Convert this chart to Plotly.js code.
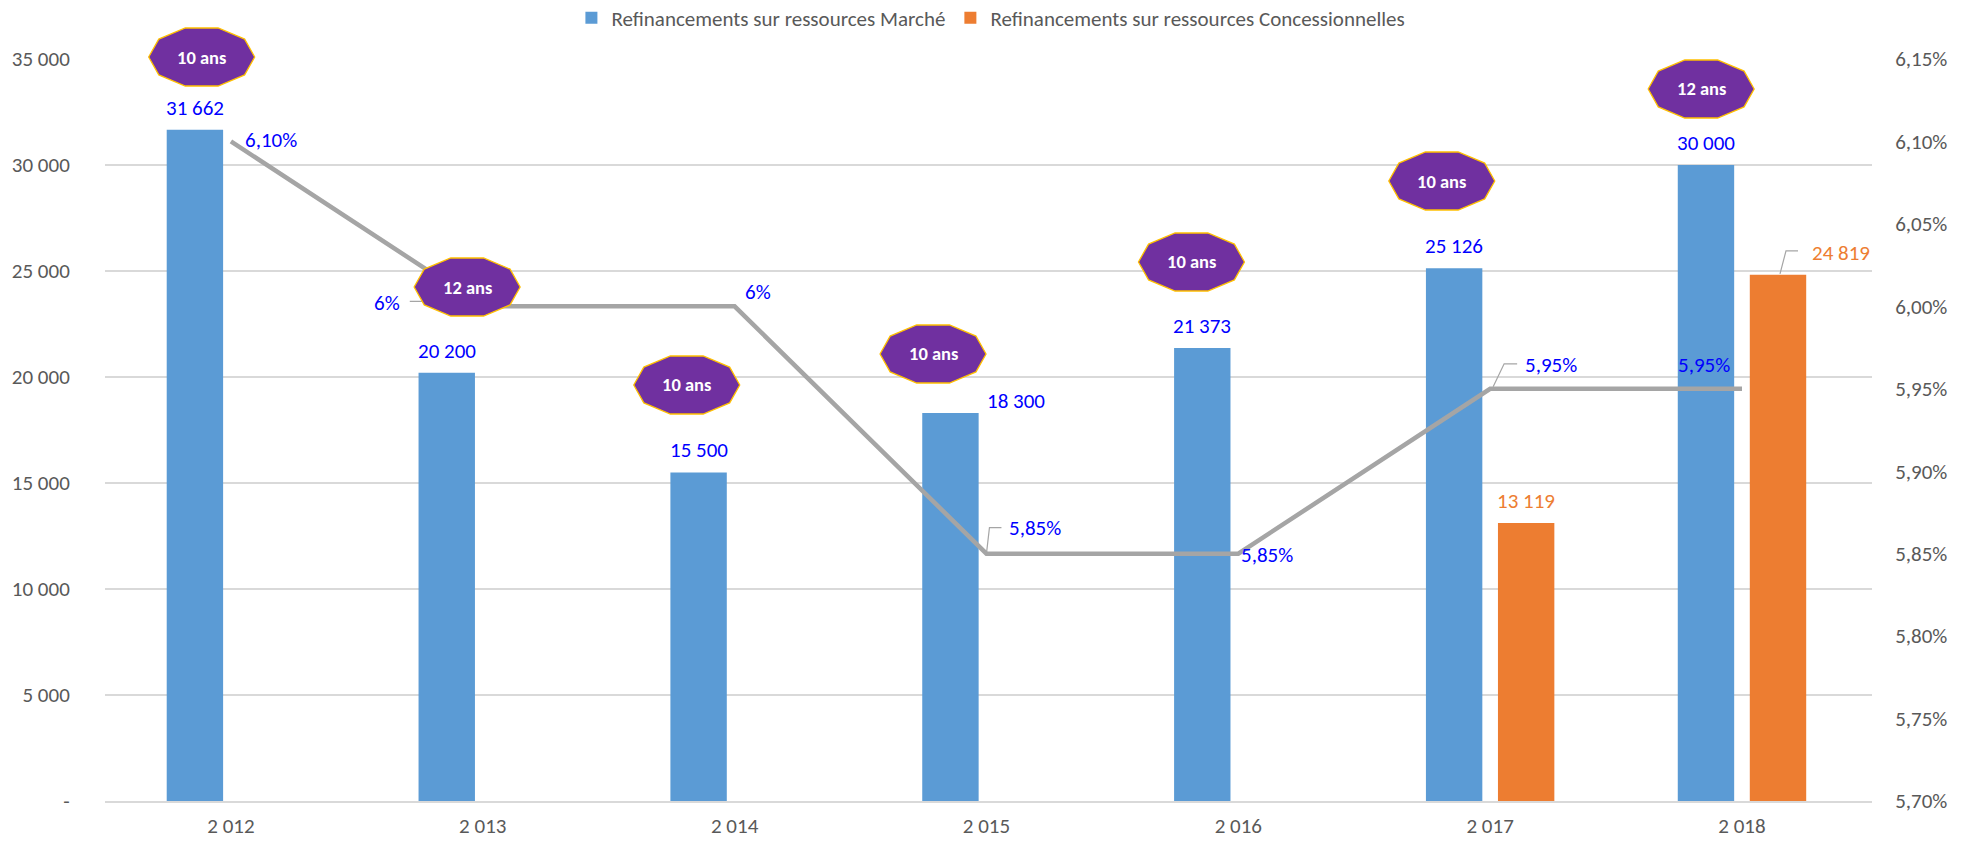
<!DOCTYPE html>
<html>
<head>
<meta charset="utf-8">
<script src="https://cdn.plot.ly/plotly-3.0.1.min.js"></script>
<style>
  html, body { margin: 0; padding: 0; background: #fff; }
  #chart { width: 1970px; height: 842px; }
</style>
</head>
<body>
<div id="chart"></div>
<script>
// --- données ---
const years = ['2 012', '2 013', '2 014', '2 015', '2 016', '2 017', '2 018'];
const marche = [31662, 20200, 15500, 18300, 21373, 25126, 30000];
const concess = [null, null, null, null, null, 13119, 24819];
const taux = [6.10, 6.00, 6.00, 5.85, 5.85, 5.95, 5.95];
const tauxLabels = ['6,10%', '6%', '6%', '5,85%', '5,85%', '5,95%', '5,95%'];
const durees = ['10 ans', '12 ans', '10 ans', '10 ans', '10 ans', '10 ans', '12 ans'];

const leftTicks = [0, 5000, 10000, 15000, 20000, 25000, 30000, 35000];
const leftTickText = ['-', '5 000', '10 000', '15 000', '20 000', '25 000', '30 000', '35 000'];
const rightTicks = [5.70, 5.75, 5.80, 5.85, 5.90, 5.95, 6.00, 6.05, 6.10, 6.15];
const rightTickText = ['5,70%', '5,75%', '5,80%', '5,85%', '5,90%', '5,95%', '6,00%', '6,05%', '6,10%', '6,15%'];

// position des pastilles "durée" (décalage en catégorie, hauteur sur l'axe gauche)
const badgeDx = [-0.116, -0.062, -0.190, -0.212, -0.186, -0.192, -0.162];
const badgeY = [35094, 24245, 19623, 21085, 25425, 29245, 33585];

// placement des étiquettes de taux (ancre, décalages px)
const tauxPos = [
    { xa: 'left', dx: 12, dy: 1 },
    { xa: 'right', dx: -81, dy: 3 },
    { xa: 'left', dx: 8, dy: 14 },
    { xa: 'left', dx: 21, dy: 26 },
    { xa: 'left', dx: 1, dy: -1 },
    { xa: 'left', dx: 33, dy: 24 },
    { xa: 'center', dx: -38, dy: 24 }
];
// lignes de rappel (px, relatif au point)
const tauxLeaders = { 1: 'M-73,5 L-40,5 L0,0', 3: 'M0,0 L3,26 L15,26', 5: 'M3,2 L14,25 L27,25' };

const FONT = "Carlito, 'Liberation Sans Narrow', 'Open Sans', sans-serif";
const BLUE = '#5B9BD5', ORANGE = '#ED7D31', GREY = '#A5A5A5', LBL = '#0000FF';
const BARGAP = 0.428, GROUPGAP = 0.217;
const Y_MAX = 35000;
const slotHalf = (1 - BARGAP) / 4;   // décalage du centre de chaque barre

const traces = [
    { type: 'bar', x: years, y: marche, name: 'Refinancements sur ressources Marché',
      marker: { color: BLUE }, hoverinfo: 'skip' },
    { type: 'bar', x: years, y: concess, name: 'Refinancements sur ressources Concessionnelles',
      marker: { color: ORANGE }, hoverinfo: 'skip' },
    { type: 'scatter', mode: 'lines', x: years, y: taux, yaxis: 'y2', showlegend: false,
      line: { color: GREY, width: 4.5 }, hoverinfo: 'skip' }
];

const annotations = [];
const shapes = [];

function fmt(v) {
    return String(v).replace(/\B(?=(\d{3})+(?!\d))/g, ' ');
}

// étiquettes des barres
marche.forEach((v, i) => {
    const a = { x: i - slotHalf, y: v, xref: 'x', yref: 'y', text: fmt(v), showarrow: false,
        font: { family: FONT, size: 21, color: LBL }, yanchor: 'middle', xanchor: 'center', yshift: 22 };
    if (i === 3) { a.xanchor = 'left'; a.xshift = 35; a.yshift = 12; }
    annotations.push(a);
});
concess.forEach((v, i) => {
    if (v === null) return;
    const a = { x: i + slotHalf, y: v, xref: 'x', yref: 'y', text: fmt(v), showarrow: false,
        font: { family: FONT, size: 21, color: ORANGE }, yanchor: 'middle', xanchor: 'center', yshift: 22 };
    if (i === 6) {
        a.xanchor = 'left'; a.xshift = 32; a.yshift = 22;
        shapes.push({ type: 'path', xref: 'x', yref: 'y', xsizemode: 'pixel', ysizemode: 'pixel',
            xanchor: i + slotHalf, yanchor: v, path: 'M2,1 L8,24 L20,24',
            line: { color: GREY, width: 1.2 } });
    }
    annotations.push(a);
});

// étiquettes du taux
taux.forEach((v, i) => {
    const p = tauxPos[i];
    annotations.push({ x: i, y: v, xref: 'x', yref: 'y2', text: tauxLabels[i], showarrow: false,
        font: { family: FONT, size: 21, color: LBL }, xanchor: p.xa, yanchor: 'middle',
        xshift: p.dx, yshift: p.dy });
    if (tauxLeaders[i]) {
        shapes.push({ type: 'path', xref: 'x', yref: 'y2', xsizemode: 'pixel', ysizemode: 'pixel',
            xanchor: i, yanchor: v, path: tauxLeaders[i], line: { color: GREY, width: 1.2 } });
    }
});

// pastilles décagonales "10 ans / 12 ans"
function decagon(rx, ry) {
    let d = '';
    for (let k = 0; k < 10; k++) {
        const t = k * Math.PI / 5;
        d += (k ? ' L' : 'M') + (rx * Math.cos(t)).toFixed(1) + ',' + (ry * Math.sin(t)).toFixed(1);
    }
    return d + ' Z';
}
const badgePath = decagon(53, 30.5);
durees.forEach((d, i) => {
    // yref paper : pas de découpe ni masquage au-dessus de 35 000
    const yp = badgeY[i] / Y_MAX;
    shapes.push({ type: 'path', xref: 'x', yref: 'paper', xsizemode: 'pixel', ysizemode: 'pixel',
        xanchor: i + badgeDx[i], yanchor: yp, path: badgePath,
        fillcolor: '#7030A0', line: { color: '#FFC000', width: 1.3 }, layer: 'above' });
    annotations.push({ x: i + badgeDx[i], y: yp, xref: 'x', yref: 'paper', text: '<b>' + d + '</b>',
        showarrow: false, yanchor: 'middle', font: { family: FONT, size: 18.5, color: '#FFFFFF' } });
});

const layout = {
    width: 1970, height: 842,
    margin: { l: 105, r: 98, t: 59, b: 41 },
    paper_bgcolor: '#FFFFFF', plot_bgcolor: '#FFFFFF',
    font: { family: FONT, color: '#595959' },
    barmode: 'group', bargap: BARGAP, bargroupgap: GROUPGAP,
    xaxis: {
        type: 'category', showgrid: false, zeroline: false,
        showline: true, linecolor: '#D9D9D9', linewidth: 2,
        ticks: 'outside', ticklen: 5, tickcolor: 'rgba(0,0,0,0)',
        tickfont: { family: FONT, size: 21, color: '#595959' }
    },
    yaxis: {
        range: [0, Y_MAX], tickvals: leftTicks, ticktext: leftTickText,
        showgrid: true, gridcolor: '#D9D9D9', gridwidth: 1.4, zeroline: false,
        ticks: 'outside', ticklen: 30, tickcolor: 'rgba(0,0,0,0)',
        tickfont: { family: FONT, size: 21, color: '#595959' }
    },
    yaxis2: {
        overlaying: 'y', side: 'right', range: [5.70, 6.15],
        tickvals: rightTicks, ticktext: rightTickText,
        showgrid: false, zeroline: false,
        ticks: 'outside', ticklen: 18, tickcolor: 'rgba(0,0,0,0)',
        tickfont: { family: FONT, size: 21, color: '#595959' }
    },
    legend: {
        orientation: 'h', xref: 'container', yref: 'container',
        x: 0.503, xanchor: 'center', y: 1 - 18 / 842, yanchor: 'middle',
        font: { family: FONT, size: 21, color: '#595959' }, traceorder: 'normal'
    },
    shapes: shapes,
    annotations: annotations
};

Plotly.newPlot('chart', traces, layout, { displayModeBar: false, staticPlot: true });
</script>
</body>
</html>
